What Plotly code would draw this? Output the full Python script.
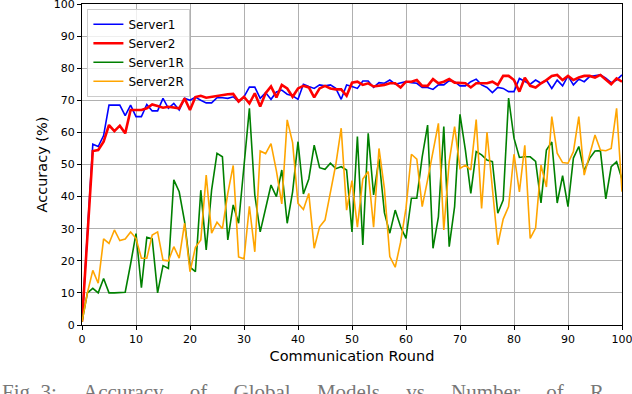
import plotly.graph_objects as go

# communication rounds 0..100
rounds = list(range(101))
tick_vals = [0, 10, 20, 30, 40, 50, 60, 70, 80, 90, 100]

server1 = [1, 30, 56.3, 55.6, 59, 68.5, 68.5, 68.5, 65.2, 68.5,
           64.9, 64.9, 68.7, 66.7, 66.7, 70.6, 67.5, 69, 67, 70.6,
           70, 71, 70, 69.2, 69.2, 70.8, 70.8, 70.6, 71.1, 69.6,
           71.1, 74.1, 74.1, 70.6, 72.4, 70.3, 72.6, 73.2, 71.9, 71.4,
           70.3, 75, 74.3, 73.7, 74.8, 74.5, 74.8, 73.7, 70.3, 74.8,
           74.3, 73.7, 76, 76, 74, 75.5, 75.3, 76.3, 75, 75.3,
           75.8, 75.5, 75.3, 74, 74, 73.4, 74.8, 74.8, 76.1, 75.8,
           74.5, 74.5, 75.8, 76.6, 74.8, 74, 72.4, 74, 73.7, 72.7,
           72.7, 76.8, 75.8, 75, 76.3, 75.3, 76.3, 73.7, 76.3, 74.5,
           77.6, 74.8, 76.6, 75.8, 77.4, 77.6, 77.9, 76.9, 75.5, 76.3,
           77.9]

server2 = [1, 28, 54.2, 54.5, 57.1, 62.3, 60.4, 62.1, 59.7, 67,
           67, 67, 67.5, 68.7, 68.2, 67.7, 68, 67.7, 67.5, 70.6,
           67, 71, 71.4, 70.8, 71.1, 71.4, 71.7, 71.9, 72, 69.6,
           71.1, 69, 72.2, 68.1, 72.2, 74.3, 70.9, 74.8, 73.7, 71.1,
           73.7, 74.5, 74, 70.9, 73.7, 74.5, 73.7, 73.4, 73.4, 71.4,
           75.5, 75.8, 74.8, 75.3, 74.3, 74.5, 74.8, 75.3, 75.3, 74,
           75.8, 75.8, 76.3, 74.5, 74.5, 76.6, 75.3, 75.8, 76.6, 75.5,
           75.5, 75.3, 74, 75.3, 75.3, 75.3, 75.8, 74.8, 77.6, 77.6,
           76.3, 72.7, 77, 74.5, 74, 75.3, 76.3, 77.6, 77.9, 76.3,
           77.6, 76.3, 77.1, 77.6, 77.6, 77.1, 77.9, 76.3, 75, 76.8,
           75.8]

server1r = [1, 10, 11.4, 10, 14.5, 10, 10, 10, 10.2, 19,
            28.5, 11.6, 27.3, 26.8, 10, 18.5, 17.6, 45.2, 41.5, 32.2,
            18, 16.6, 42, 23.4, 42, 53.5, 52.4, 26.5, 37.4, 31.7,
            50.9, 67.5, 40.5, 29, 36.3, 43.6, 40, 48.3, 31.7, 41.5,
            57.1, 40.8, 45.5, 56, 49, 48.5, 50.4, 48.7, 49.3, 48.3,
            29, 58.7, 24.9, 59.7, 40.5, 51.8, 35, 28.6, 35.8, 30.6,
            27, 39.5, 39.5, 52.4, 62.3, 23.9, 33.7, 61.8, 24.4, 36.9,
            65.6, 54.5, 41, 54, 53, 51.4, 50.9, 34.8, 38.9, 70.7,
            58.2, 52.2, 52.4, 52.4, 51, 38, 54.5, 57, 38, 46.5,
            36.9, 52, 55.6, 48, 51.9, 54.2, 54.3, 39.3, 49.3, 50.9,
            45.4]

server2r = [1, 10, 17, 13, 26.8, 25.4, 29.6, 26.3, 26.8, 29,
            27, 20.8, 20.8, 28, 29, 20.2, 20, 24.4, 20.8, 31.7,
            16.6, 24.2, 26.5, 46.7, 28.6, 32, 30, 41, 49.7, 21.2,
            20.6, 37, 22.8, 54.2, 53.4, 56.5, 48, 37.7, 63.9, 56.8,
            37.9, 36, 41, 23.9, 30.6, 32.7, 41.3, 50, 61.3, 35.8,
            45, 30.5, 45.5, 47.8, 30.5, 55, 42.5, 21.3, 18, 25.8,
            36.4, 53.2, 51.7, 36.9, 45.2, 53.5, 62.8, 29.6, 50.9, 61.8,
            48.8, 49.8, 48.3, 64, 36.3, 60, 42, 25, 33, 36.9,
            53.2, 41.5, 56, 27, 30.2, 49.8, 43, 64.9, 53.5, 50.6,
            50.4, 54, 64.9, 46.7, 53, 59.2, 54.5, 54.3, 55, 67.5,
            41.5]

series = [
    ("Server1", server1, "blue", 1.6),
    ("Server2", server2, "red", 2.6),
    ("Server1R", server1r, "green", 1.6),
    ("Server2R", server2r, "orange", 1.6),
]

fig = go.Figure()
for name, vals, color, width in series:
    fig.add_trace(go.Scatter(
        x=rounds, y=vals, mode="lines", name=name,
        line=dict(color=color, width=width)
    ))

axis_style = dict(
    showline=True, linecolor="black", linewidth=1, mirror=True,
    showgrid=True, gridcolor="#b0b0b0", gridwidth=0.8,
    ticks="outside", ticklen=4, tickcolor="black",
    tickmode="array", tickvals=tick_vals,
    tickfont=dict(family="DejaVu Sans", size=11, color="black"),
    ticklabeloverflow="allow",
    zeroline=False, automargin=False,
)

fig.update_xaxes(range=[0, 100], **axis_style,
                 title=dict(text="Communication Round", standoff=5,
                            font=dict(family="DejaVu Sans", size=14.5, color="black")))
fig.update_yaxes(range=[0, 100], **axis_style,
                 title=dict(text="Accuracy (%)", standoff=2,
                            font=dict(family="DejaVu Sans", size=14.5, color="black")))

# figure caption, cut off at the bottom edge like in the source image
gap = "\u00a0" * 5
caption = gap.join(["Fig. 3:", "Accuracy", "of", "Global", "Models", "vs", "Number", "of", "R"])
fig.add_annotation(
    text=caption,
    xref="paper", yref="paper", x=-0.152, y=-0.166,
    xanchor="left", yanchor="top", showarrow=False,
    font=dict(family="Liberation Serif", size=21, color="#777777")
)

fig.update_layout(
    width=632, height=394,
    margin=dict(l=82, r=10, t=4, b=69),
    plot_bgcolor="white", paper_bgcolor="white",
    legend=dict(
        x=0.01, y=0.985, xanchor="left", yanchor="top",
        bgcolor="rgba(255,255,255,0.8)", bordercolor="#cccccc", borderwidth=1,
        font=dict(family="DejaVu Sans", size=12, color="black"),
        itemwidth=30, tracegroupgap=0,
    ),
    showlegend=True,
)

fig.write_html("out.html", config={"displayModeBar": False},
               post_script="document.body.style.margin = '0';")
